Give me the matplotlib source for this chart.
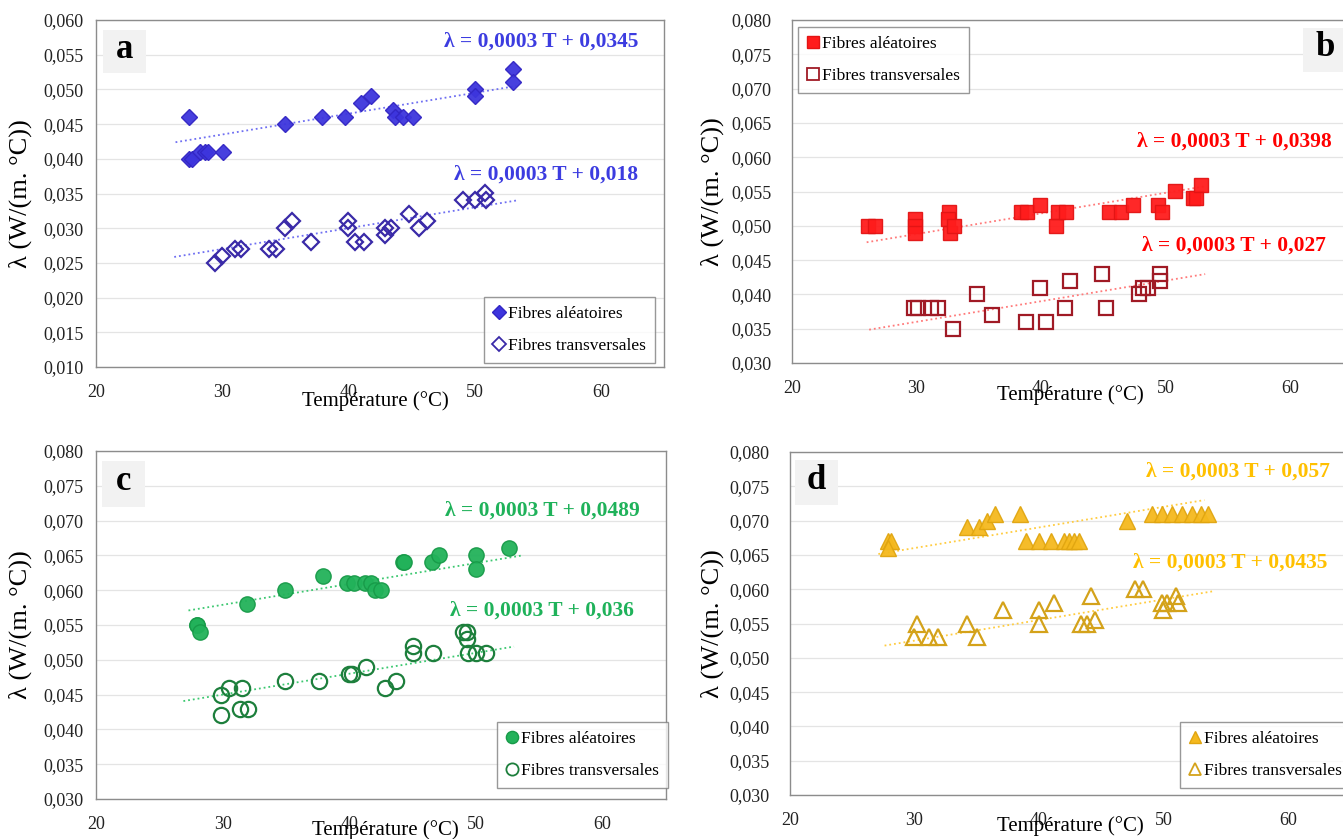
import numpy as np
import matplotlib
matplotlib.use("Agg")
import matplotlib.pyplot as plt
from matplotlib.lines import Line2D
from matplotlib.patches import Rectangle
from matplotlib.ticker import FuncFormatter, MultipleLocator

W, H = 1343, 839
plt.rcParams['font.family'] = ['Liberation Serif', 'DejaVu Serif']

# ---- data (panel a : blue diamonds) ----
a_T_alea = [27.4, 27.4, 27.6, 28.2, 28.6, 28.9, 30.1, 35.0, 37.9, 39.7, 41.0, 41.8,
            43.5, 43.7, 44.3, 45.1, 50.0, 50.0, 53.0, 53.0]
a_L_alea = [0.046, 0.040, 0.040, 0.041, 0.041, 0.041, 0.041, 0.045, 0.046, 0.046, 0.048, 0.049,
            0.047, 0.046, 0.046, 0.046, 0.050, 0.049, 0.053, 0.051]
a_T_trans = [29.4, 30.0, 31.0, 31.5, 33.7, 34.3, 35.0, 35.5, 37.0, 40.0, 40.0, 40.5,
             41.2, 42.9, 42.9, 43.4, 44.8, 45.6, 46.2, 49.1, 50.0, 50.8, 50.9]
a_L_trans = [0.025, 0.026, 0.027, 0.027, 0.027, 0.027, 0.030, 0.031, 0.028, 0.031, 0.030, 0.028,
             0.028, 0.030, 0.029, 0.030, 0.032, 0.030, 0.031, 0.034, 0.034, 0.035, 0.034]

# ---- panel b : red squares ----
b_T_alea = [26.1, 26.7, 29.9, 29.9, 29.9, 32.6, 32.5, 32.7, 33.0, 38.4, 38.9, 39.9,
            41.2, 41.4, 42.0, 45.5, 46.4, 47.4, 49.4, 49.7, 50.8, 52.2, 52.5, 52.9]
b_L_alea = [0.050, 0.050, 0.051, 0.050, 0.049, 0.052, 0.051, 0.049, 0.050, 0.052, 0.052, 0.053,
            0.050, 0.052, 0.052, 0.052, 0.052, 0.053, 0.053, 0.052, 0.055, 0.054, 0.054, 0.056]
b_T_trans = [29.8, 30.1, 31.2, 31.7, 32.9, 34.9, 36.1, 38.8, 39.9, 40.4, 41.9, 42.3,
             44.9, 45.2, 47.9, 48.2, 48.6, 49.6, 49.6]
b_L_trans = [0.038, 0.038, 0.038, 0.038, 0.035, 0.040, 0.037, 0.036, 0.041, 0.036, 0.038, 0.042,
             0.043, 0.038, 0.040, 0.041, 0.041, 0.042, 0.043]

# ---- panel c : green circles ----
c_T_alea = [28.0, 28.0, 28.2, 31.9, 34.9, 37.9, 39.8, 40.4, 41.2, 41.7, 42.0, 42.5,
            44.2, 44.3, 46.5, 47.1, 50.0, 50.0, 52.6]
c_L_alea = [0.055, 0.055, 0.054, 0.058, 0.060, 0.062, 0.061, 0.061, 0.061, 0.061, 0.060, 0.060,
            0.064, 0.064, 0.064, 0.065, 0.065, 0.063, 0.066]
c_T_trans = [29.9, 29.9, 30.5, 31.4, 32.0, 31.5, 34.9, 37.6, 40.0, 40.2, 41.3, 42.8,
             43.7, 45.0, 45.0, 46.6, 49.0, 49.3, 49.3, 49.4, 50.0, 50.8]
c_L_trans = [0.042, 0.045, 0.046, 0.043, 0.043, 0.046, 0.047, 0.047, 0.048, 0.048, 0.049, 0.046,
             0.047, 0.052, 0.051, 0.051, 0.054, 0.054, 0.053, 0.051, 0.051, 0.051]

# ---- panel d : yellow triangles ----
d_T_alea = [27.9, 28.1, 27.9, 34.2, 35.2, 35.8, 36.5, 38.5, 39.0, 40.0, 41.0, 42.0,
            42.4, 42.8, 43.2, 47.1, 49.1, 49.9, 50.7, 51.5, 52.3, 53.0, 53.6]
d_L_alea = [0.067, 0.067, 0.066, 0.069, 0.069, 0.070, 0.071, 0.071, 0.067, 0.067, 0.067, 0.067,
            0.067, 0.067, 0.067, 0.070, 0.071, 0.071, 0.071, 0.071, 0.071, 0.071, 0.071]
d_T_trans = [30.0, 30.2, 31.2, 31.9, 34.2, 35.0, 37.1, 40.0, 40.0, 41.2, 43.4, 43.9,
             44.2, 44.5, 47.7, 48.4, 49.9, 50.0, 50.3, 51.0, 51.2]
d_L_trans = [0.053, 0.055, 0.053, 0.053, 0.055, 0.053, 0.057, 0.057, 0.055, 0.058, 0.055, 0.055,
             0.059, 0.0555, 0.060, 0.060, 0.058, 0.057, 0.058, 0.059, 0.058]

# trend lines (slope, intercept) as printed, and the T range they span
a_fits = [(0.0003, 0.0345), (0.0003, 0.018)]
b_fits = [(0.0003, 0.0398), (0.0003, 0.027)]
c_fits = [(0.0003, 0.0489), (0.0003, 0.036)]
d_fits = [(0.0003, 0.057), (0.0003, 0.0435)]
a_spans = [(26.3, 53.3), (26.2, 53.5)]
b_spans = [(26.0, 53.1), (26.2, 53.2)]
c_spans = [(27.3, 53.6), (26.9, 53.0)]
d_spans = [(27.1, 53.3), (27.6, 54.0)]

labels = ["Fibres aléatoires", "Fibres transversales"]


def fpos(x, y):
    return x / W, 1 - y / H


def comma(v, pos=None):
    return f"{v:.3f}".replace(".", ",")


def eq_text(fit):
    return f"λ = {str(fit[0]).replace('.', ',')} T + {str(fit[1]).replace('.', ',')}"


fig = plt.figure(figsize=(W / 100, H / 100), dpi=100)


def panel(frame, ylim, data, fits, spans, style, letter, letter_box, eq_pos,
          leg_pos, ylab_x, xlab_pos, ypad):
    x0, y0, x1, y1 = frame
    ax = fig.add_axes([x0 / W, 1 - y1 / H, (x1 - x0) / W, (y1 - y0) / H])
    ax.set_xlim(20, 65)
    ax.set_ylim(*ylim)
    ax.xaxis.set_major_locator(MultipleLocator(10))
    ax.yaxis.set_major_locator(MultipleLocator(0.005))
    ax.yaxis.set_major_formatter(FuncFormatter(comma))
    ax.grid(axis='y', color='#e4e4e4', lw=0.9)
    ax.set_axisbelow(True)
    for s in ax.spines.values():
        s.set_color('#8c8c8c')
        s.set_linewidth(1.0)
    ax.tick_params(axis='both', length=0, labelsize=13, colors='#222222')
    ax.tick_params(axis='x', pad=12)
    ax.tick_params(axis='y', pad=ypad)

    (Ta, La), (Tt, Lt) = data
    fill, edge, oedge, tcol, lcol, mk, ms = style
    for fit, span in zip(fits, spans):
        tt = np.array(span)
        ax.plot(tt, fit[0] * tt + fit[1], ls=':', color=lcol, lw=1.3, zorder=2)
    ax.plot(Ta, La, ls='none', marker=mk, ms=ms, mfc=fill, mec=edge, mew=1.0,
            alpha=0.95, zorder=3)
    ax.plot(Tt, Lt, ls='none', marker=mk, ms=ms, mfc='none', mec=oedge, mew=1.6,
            zorder=3)

    for fit, (ex, ey) in zip(fits, eq_pos):
        fig.text(*fpos(ex, ey), eq_text(fit), color=tcol, fontsize=15.5,
                 fontweight='bold', ha='right', va='center')

    bx0, by0, bx1, by1 = letter_box
    fig.patches.append(Rectangle(fpos(bx0, by1), (bx1 - bx0) / W, (by1 - by0) / H,
                                 transform=fig.transFigure, facecolor='#f2f2f2',
                                 edgecolor='none', zorder=5))
    fig.text(*fpos((bx0 + bx1) / 2 if bx1 < W else bx0 + 22, (by0 + by1) / 2 - 2),
             letter, fontsize=25, fontweight='bold', ha='center', va='center',
             zorder=6)

    handles = [Line2D([], [], ls='none', marker=mk, ms=ms * 0.8, mfc=fill, mec=edge),
               Line2D([], [], ls='none', marker=mk, ms=ms * 0.8, mfc='none',
                      mec=oedge, mew=1.3)]
    leg = ax.legend(handles, labels, loc='upper left', bbox_to_anchor=fpos(*leg_pos),
                    bbox_transform=fig.transFigure, fontsize=12.5, frameon=True,
                    fancybox=False, edgecolor='#7f7f7f', handlelength=0.7,
                    handletextpad=0.2, labelspacing=0.95, borderpad=0.5,
                    borderaxespad=0)
    leg.get_frame().set_linewidth(1.0)

    ax.set_ylabel("λ (W/(m. °C))", fontsize=19, va='center')
    ax.yaxis.set_label_coords((ylab_x - x0) / (x1 - x0), 0.5)
    ax.set_xlabel("Température (°C)", fontsize=15, va='center')
    ax.xaxis.set_label_coords((xlab_pos[0] - x0) / (x1 - x0),
                              -(xlab_pos[1] - y1) / (y1 - y0))
    return ax


panel((96, 20, 664, 367), (0.010, 0.060),
      ((a_T_alea, a_L_alea), (a_T_trans, a_L_trans)), a_fits, a_spans,
      ('#3d35dd', '#3226c4', '#3a2aa8', '#3c3ce0', '#6f6ff2', 'D', 8.5),
      'a', (103, 30, 146, 73), [(638, 42), (638, 175)], (484, 297), 20, (375, 401), 9)

panel((792, 20, 1352, 363), (0.030, 0.080),
      ((b_T_alea, b_L_alea), (b_T_trans, b_L_trans)), b_fits, b_spans,
      ('#ff1c1c', '#e31414', '#a01a25', '#ff0000', '#ff7a7a', 's', 10.5),
      'b', (1303, 28, 1343, 72), [(1332, 142), (1326, 246)], (798, 27), 712, (1070, 395), 15)

panel((96, 451, 666, 799), (0.030, 0.080),
      ((c_T_alea, c_L_alea), (c_T_trans, c_L_trans)), c_fits, c_spans,
      ('#22b25a', '#179a48', '#1d7f3c', '#1fb25a', '#3cc870', 'o', 11),
      'c', (102, 461, 145, 507), [(640, 511), (634, 611)], (497, 722), 20, (385, 830), 9)

panel((790, 452, 1350, 795), (0.030, 0.080),
      ((d_T_alea, d_L_alea), (d_T_trans, d_L_trans)), d_fits, d_spans,
      ('#f5b91e', '#e0a510', '#d4a21a', '#ffc000', '#ffcc40', '^', 11.5),
      'd', (795, 460, 838, 505), [(1330, 472), (1327, 563)], (1180, 722), 712, (1070, 826), 15)

fig.savefig("out.png", dpi=100)
